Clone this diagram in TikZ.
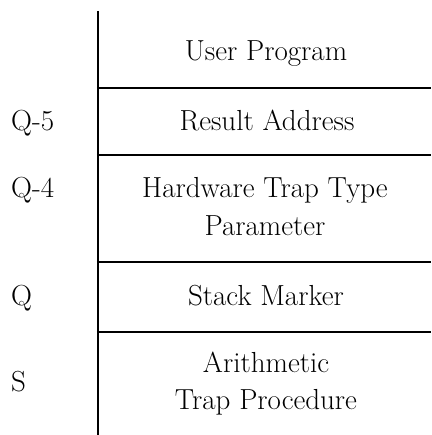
\documentclass[tikz,border=0pt]{standalone}
\usepackage{tikz}
\usetikzlibrary{positioning}

\begin{document}
\begin{tikzpicture}[x=1pt,y=-1pt,
  every node/.style={font=\fontsize{29}{37}\selectfont,align=center,inner sep=0pt,anchor=base},
  entry/.style={anchor=base},
  tag/.style={anchor=base west},
  rule/.style={line width=2.5pt}]

\useasboundingbox (0,0) rectangle (431,435);

% Linea vertical de la pila
\draw[rule] (98,11) -- (98,435);

% Separaciones entre celdas
\foreach \y in {88,155,262,332}
  \draw[rule] (96.75,\y) -- (431,\y);

% Celdas de la pila
\node[entry] (user) at (266,61) {User Program};
\node[entry] (result) at (267,131) {Result Address};
\node[entry] (param) at (265,235) {Hardware Trap Type\\Parameter};
\node[entry] (marker) at (266,305) {Stack Marker};
\node[entry] (proc) at (266,409) {Arithmetic\\Trap Procedure};

% Etiquetas a la izquierda
\node[tag] (q5) at (11,131) {Q-5};
\node[tag] (q4) at (11,197) {Q-4};
\node[tag] (q) at (11,305) {Q};
\node[tag] (s) at (11,391) {S};

\end{tikzpicture}
\end{document}
